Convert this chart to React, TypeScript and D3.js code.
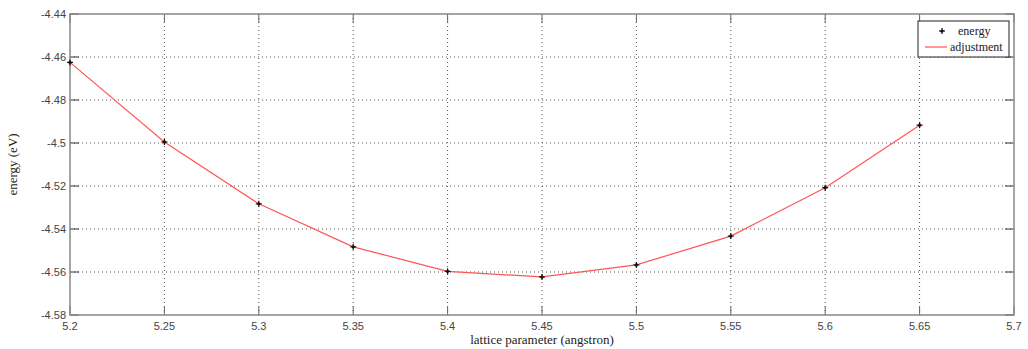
import React from 'react';
import * as d3 from 'd3';

// lattice parameter vs energy
const latticeParams = [5.2, 5.25, 5.3, 5.35, 5.4, 5.45, 5.5, 5.55, 5.6, 5.65];
const energies = [-4.4625, -4.4995, -4.5283, -4.5483, -4.5597, -4.5623, -4.5567, -4.5433, -4.5208, -4.4917];

const xTicks = [5.2, 5.25, 5.3, 5.35, 5.4, 5.45, 5.5, 5.55, 5.6, 5.65, 5.7];
const yTicks = [-4.44, -4.46, -4.48, -4.5, -4.52, -4.54, -4.56, -4.58];

const W = 1028;
const H = 349;
const margin = { top: 14, right: 14, bottom: 34, left: 70 };

const App = () => {
  const x = d3.scaleLinear().domain([5.2, 5.7]).range([margin.left, W - margin.right]);
  const y = d3.scaleLinear().domain([-4.58, -4.44]).range([H - margin.bottom, margin.top]);

  const pts = latticeParams.map((p, i) => [p, energies[i]] as [number, number]);
  const line = d3.line<[number, number]>().x(d => x(d[0])).y(d => y(d[1]));

  const x0 = margin.left, x1 = W - margin.right;
  const y0 = margin.top, y1 = H - margin.bottom;
  const tick = 9;
  const fmt = (v: number) => String(+v.toFixed(2));

  return (
    <svg width={W} height={H} style={{ position: 'absolute', left: 0, top: 0, background: '#fff' }}>
      {/* grid */}
      {xTicks.slice(1, -1).map(t => (
        <line key={'gx' + t} x1={x(t)} x2={x(t)} y1={y0} y2={y1} stroke="#555" strokeWidth={1} strokeDasharray="1,3" />
      ))}
      {yTicks.slice(1, -1).map(t => (
        <line key={'gy' + t} x1={x0} x2={x1} y1={y(t)} y2={y(t)} stroke="#555" strokeWidth={1} strokeDasharray="1,3" />
      ))}

      {/* tick marks */}
      {xTicks.map(t => (
        <g key={'tx' + t}>
          <line x1={x(t)} x2={x(t)} y1={y1} y2={y1 - tick} stroke="#666" />
          <line x1={x(t)} x2={x(t)} y1={y0} y2={y0 + tick} stroke="#666" />
        </g>
      ))}
      {yTicks.map(t => (
        <g key={'ty' + t}>
          <line x1={x0} x2={x0 + tick} y1={y(t)} y2={y(t)} stroke="#333" />
          <line x1={x1} x2={x1 - tick} y1={y(t)} y2={y(t)} stroke="#333" />
        </g>
      ))}

      {/* frame */}
      <rect x={x0} y={y0} width={x1 - x0} height={y1 - y0} fill="none" stroke="#888" strokeWidth={1.5} />

      {/* tick labels */}
      {xTicks.map(t => (
        <text key={'lx' + t} x={x(t)} y={y1 + 15} textAnchor="middle" fontFamily="Liberation Sans, Arial, sans-serif" fontSize={11} fill="#444">
          {fmt(t)}
        </text>
      ))}
      {yTicks.map(t => (
        <text key={'ly' + t} x={x0 - 4} y={y(t) + 4} textAnchor="end" fontFamily="Liberation Sans, Arial, sans-serif" fontSize={11} fill="#444">
          {fmt(t)}
        </text>
      ))}

      {/* data */}
      <path d={line(pts) || ''} fill="none" stroke="#f55" strokeWidth={1.2} />
      {pts.map((d, i) => (
        <g key={'p' + i} transform={`translate(${x(d[0])},${y(d[1])})`}>
          <line x1={-3} x2={3} y1={0} y2={0} stroke="#111" strokeWidth={1.2} />
          <line x1={0} x2={0} y1={-3} y2={3} stroke="#111" strokeWidth={1.2} />
          <circle r={1.6} fill="#111" />
        </g>
      ))}

      {/* axis labels */}
      <text x={(x0 + x1) / 2} y={H - 5} textAnchor="middle" fontFamily="Liberation Serif, Times New Roman, serif" fontSize={13} fill="#222">
        lattice parameter (angstron)
      </text>
      <text transform={`translate(17,${(y0 + y1) / 2}) rotate(-90)`} textAnchor="middle" fontFamily="Liberation Serif, Times New Roman, serif" fontSize={13} fill="#222">
        energy (eV)
      </text>

      {/* legend */}
      <g transform="translate(918,21)">
        <rect x={0} y={0} width={91} height={36} fill="#fff" stroke="#222" strokeWidth={1} />
        <g transform="translate(24,10)">
          <line x1={-3} x2={3} y1={0} y2={0} stroke="#111" strokeWidth={1.2} />
          <line x1={0} x2={0} y1={-3} y2={3} stroke="#111" strokeWidth={1.2} />
          <circle r={1.6} fill="#111" />
        </g>
        <text x={40} y={14} fontFamily="Liberation Serif, Times New Roman, serif" fontSize={12} fill="#222">energy</text>
        <line x1={7} x2={29} y1={26} y2={26} stroke="#f55" strokeWidth={1.2} />
        <text x={32} y={30} fontFamily="Liberation Serif, Times New Roman, serif" fontSize={12} fill="#222">adjustment</text>
      </g>
    </svg>
  );
};

export default App;
